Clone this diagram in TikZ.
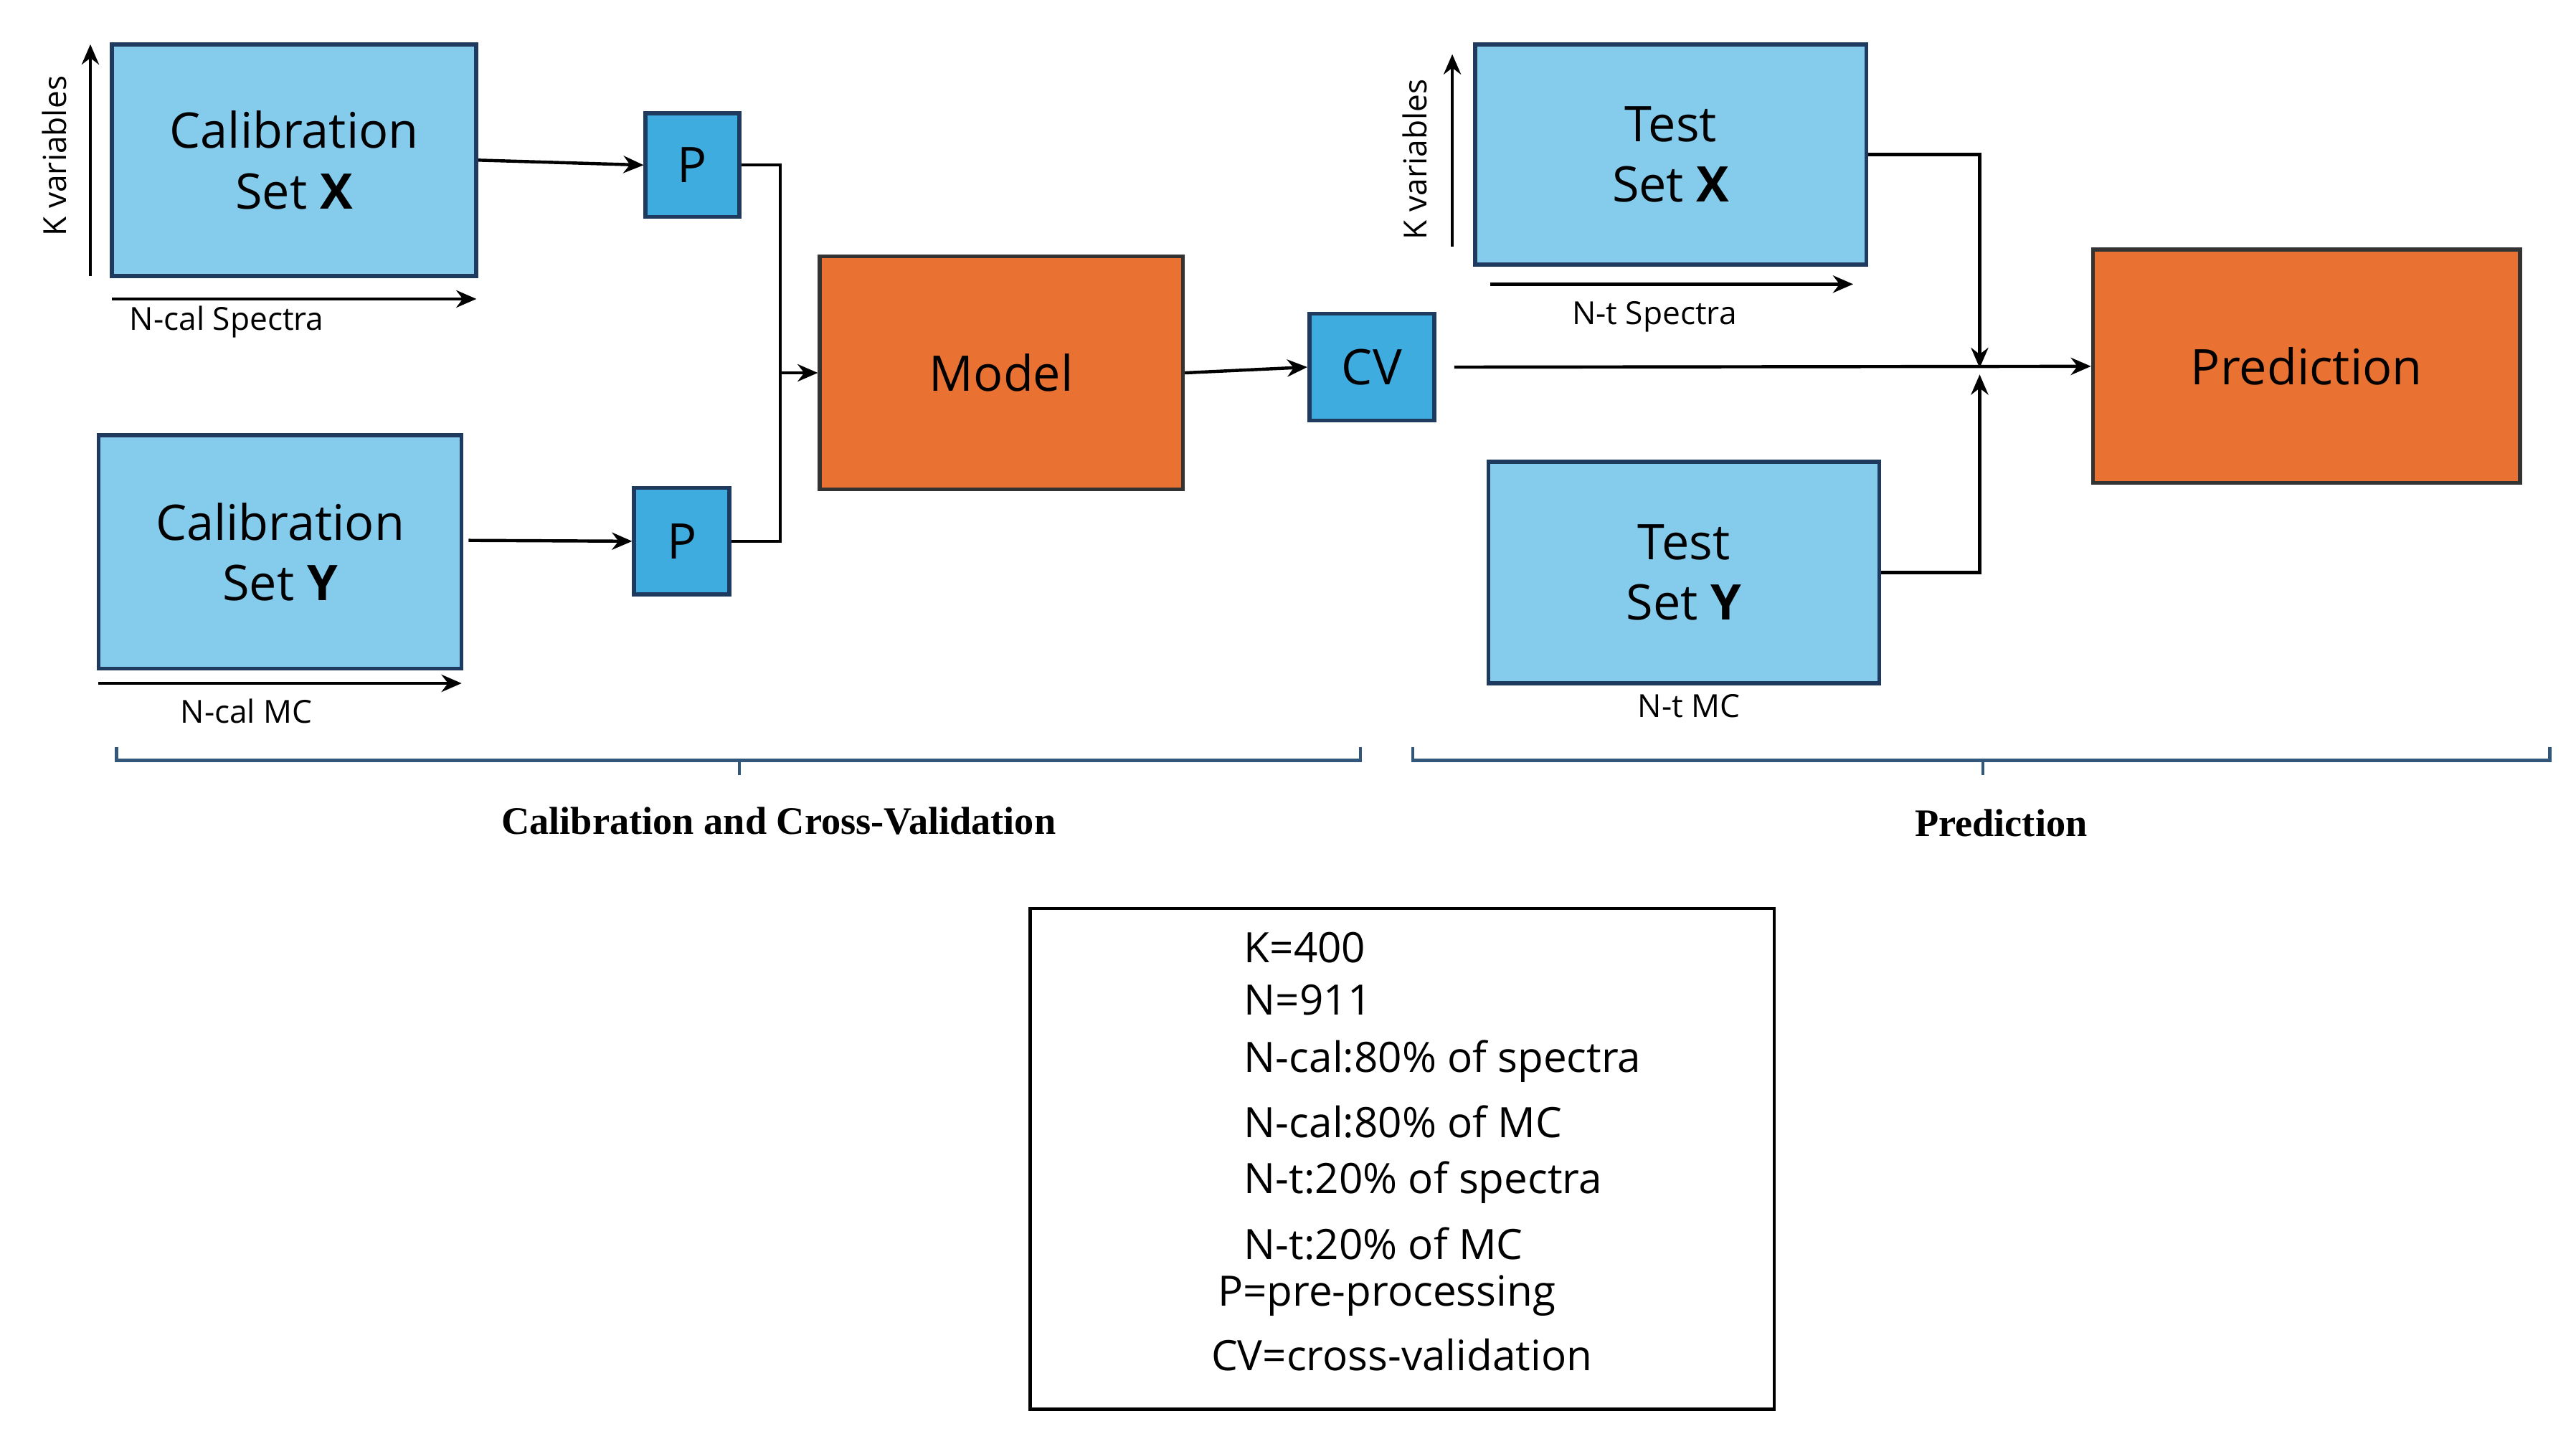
\documentclass[tikz,border=0pt]{standalone}
\usepackage{fontspec}
\setmainfont{Open Sans}
\newfontfamily\serifb{Liberation Serif}
\usetikzlibrary{arrows.meta}
\definecolor{lb}{HTML}{85CBEB}
\definecolor{pb}{HTML}{3FACE0}
\definecolor{bd}{HTML}{1F3A5F}
\definecolor{org}{HTML}{E97132}
\begin{document}
\begin{tikzpicture}[x=0.02cm,y=-0.02cm,
 box/.style={draw=bd,line width=1.4pt,fill=lb,inner sep=0,align=center,font=\fontsize{17}{21}\selectfont},
 pbox/.style={box,fill=pb},
 obox/.style={box,fill=org,draw=black!80},
 ln/.style={line width=1.1pt},
 ar/.style={ln,-{Stealth[length=7pt,width=6pt]}},
 sm/.style={font=\fontsize{11}{13}\selectfont},
 br/.style={line width=1.1pt,draw=bd!80!lb}]
\useasboundingbox (0,0) rectangle (1568,873);
\node[box,minimum width=4.44cm,minimum height=2.82cm] (calx) at (179,97.5) {Calibration\\Set \textbf{X}};
\node[pbox,minimum width=1.14cm,minimum height=1.26cm] (p1) at (421.5,100.5) {P};
\node[box,minimum width=4.42cm,minimum height=2.84cm] (caly) at (170.5,336) {Calibration\\Set \textbf{Y}};
\node[pbox,minimum width=1.16cm,minimum height=1.3cm] (p2) at (415,329.5) {P};
\node[obox,minimum width=4.42cm,minimum height=2.84cm] (model) at (609.5,227) {Model};
\node[pbox,minimum width=1.52cm,minimum height=1.3cm] (cv) at (835,223.5) {CV};
\node[box,minimum width=4.76cm,minimum height=2.68cm] (tx) at (1017,94) {Test\\Set \textbf{X}};
\node[box,minimum width=4.76cm,minimum height=2.7cm] (ty) at (1025,348.5) {Test\\Set \textbf{Y}};
\node[obox,minimum width=5.2cm,minimum height=2.84cm] (pred) at (1404,223) {Prediction};
% axes
\coordinate (a1) at (55,168); \coordinate (a2) at (55,27);
\draw[ar] (a1) -- (a2);
\node[sm,rotate=90] (kv1) at (33,95) {K variables};
\coordinate (b1) at (68,182); \coordinate (b2) at (290,182);
\draw[ar] (b1) -- (b2);
\node[sm] (l1) at (138,196) {N-cal Spectra};
\coordinate (c1) at (60,416); \coordinate (c2) at (281,416);
\draw[ar] (c1) -- (c2);
\node[sm] (l2) at (150,433) {N-cal MC};
\coordinate (d1) at (884,150); \coordinate (d2) at (884,33);
\draw[ar] (d1) -- (d2);
\node[sm,rotate=90] (kv2) at (861,97) {K variables};
\coordinate (e1) at (907,173); \coordinate (e2) at (1128,173);
\draw[ar] (e1) -- (e2);
\node[sm] (l3) at (1007,193) {N-t Spectra};
\node[sm] (l4) at (1028,430) {N-t MC};
% connectors
\coordinate (j1) at (475,227);
\draw[ar] (calx.east) -- (p1.west);
\draw[ar] (caly.east) ++(3,-7) -- (p2.west);
\draw[ln] (p1.east) -| (j1);
\draw[ln] (p2.east) -| (j1);
\draw[ar] (j1) -- (model.west);
\draw[ar] (model.east) -- (cv.west);
\coordinate (j2) at (1205,226);
\draw[ar] (cv.east) ++(11,0) -- (pred.west);
\draw[ar] (tx.east) -| ([yshift=0.04cm]j2);
\draw[ar] (ty.east) -| ([yshift=-0.04cm]j2);
% braces
\draw[br] (71,455) -- (71,463) -- (828,463) -- (828,455);
\draw[br] (450,463) -- (450,472);
\draw[br] (860,455) -- (860,463) -- (1552,463) -- (1552,455);
\draw[br] (1207,463) -- (1207,472);
\node[font=\serifb\bfseries\fontsize{13.5}{16}\selectfont] (t1) at (474,500) {Calibration and Cross-Validation};
\node[font=\serifb\bfseries\fontsize{13.5}{16}\selectfont] (t2) at (1218,501) {Prediction};
% legend
\node[draw=black,line width=1.2pt,minimum width=9.06cm,minimum height=6.1cm] (leg) at (853.5,705.5) {};
\begin{scope}[every node/.style={anchor=west,inner sep=0,font=\fontsize{14.5}{17}\selectfont}]
\node (g1) at (757,577) {K=400};
\node (g2) at (757,609) {N=911};
\node (g3) at (757,646) {N-cal:80\% of spectra};
\node (g4) at (757,683) {N-cal:80\% of MC};
\node (g5) at (757,720) {N-t:20\% of spectra};
\node (g6) at (757,757) {N-t:20\% of MC};
\node (g7) at (741,789) {P=pre-processing};
\node (g8) at (737,825) {CV=cross-validation};
\end{scope}
\end{tikzpicture}
\end{document}
